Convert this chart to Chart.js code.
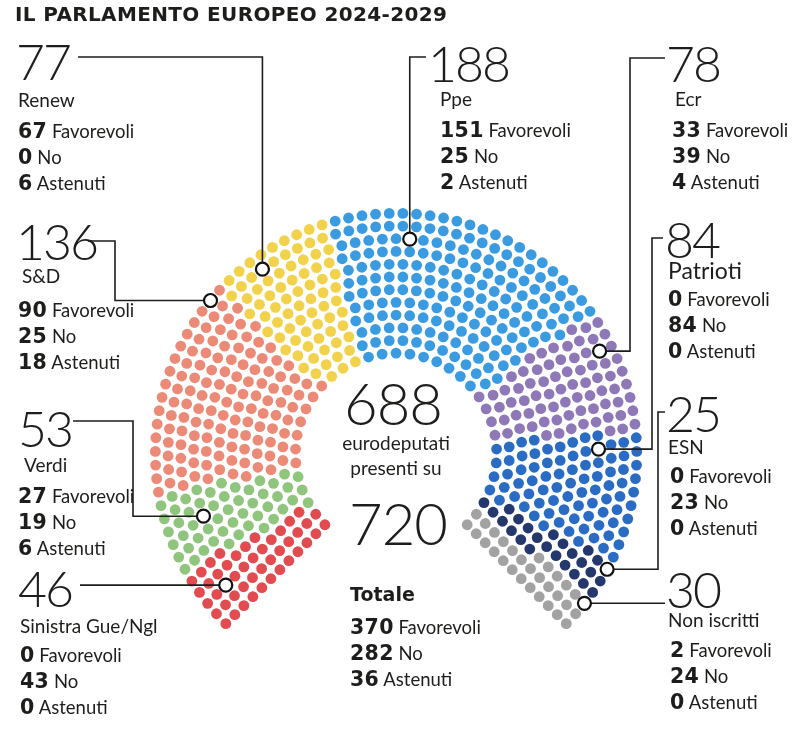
<!DOCTYPE html>
<html><head><meta charset="utf-8">
<script src="https://cdn.jsdelivr.net/npm/chart.js@4.4.1/dist/chart.umd.min.js"></script>
<style>
body{margin:0;background:#fff;}
#wrap{position:relative;width:800px;height:732px;overflow:hidden;}
#c{position:absolute;left:0;top:0;}
.t{position:absolute;font-family:Lato,'Noto Sans',sans-serif;color:#1d1d1b;white-space:nowrap;line-height:1.2;}
.t b{font-family:'DejaVu Sans',sans-serif;font-weight:700;font-size:20.5px;letter-spacing:0.3px;}
</style></head>
<body><div id="wrap"><canvas id="c" width="800" height="732"></canvas></div>
<script>
// ---- DATA ----
const parties = ['Sinistra Gue/Ngl','Verdi','S&D','Renew','Ppe','Ecr','Patrioti','ESN','Non iscritti'];
const seats = [46,53,136,77,188,78,84,25,30];
const favorevoli = [0,27,90,67,151,33,0,0,2];
const contrari = [43,19,25,0,25,39,84,23,24];
const astenuti = [0,6,18,6,2,4,0,0,0];
const voteLabels = ['Favorevoli','No','Astenuti'];
const totaleSeggi = 720;
const titleText = 'IL PARLAMENTO EUROPEO 2024-2029';
const colors = ['#e24b4f','#8fc57c','#ec8a78','#f2d24a','#3b9be0','#8e78b8','#2a6cc4','#24386e','#a2a2a2'];

// ---- GEOMETRY (layout only) ----
const CX = 396, CY = 455, RPX = 244;
const ROWS = 12, R_IN = 102/244;
const A0 = 225, A1 = -45;

function layout(seatArr){
  const total = seatArr.reduce((a,b)=>a+b,0);
  const radii = [];
  for(let i=0;i<ROWS;i++) radii.push(R_IN + (1-R_IN)*i/(ROWS-1));
  const sumR = radii.reduce((a,b)=>a+b,0);
  const counts = radii.map(r=>Math.round(total*r/sumR));
  let diff = total - counts.reduce((a,b)=>a+b,0);
  let k = ROWS-1;
  while(diff!==0){ const s=Math.sign(diff); counts[k]+=s; diff-=s; k=(k-1+ROWS)%ROWS; }
  const all=[];
  radii.forEach((r,i)=>{
    const n=counts[i];
    for(let j=0;j<n;j++){ all.push({r,row:i,a:A0+(A1-A0)*j/(n-1)}); }
  });
  all.sort((p,q)=>(Math.abs(q.a-p.a)>1e-9?q.a-p.a:p.r-q.r));
  const groups = seatArr.map(()=>[]);
  let idx=0;
  seatArr.forEach((s,g)=>{
    for(let m=0;m<s;m++){
      const p=all[idx++]; const rad=p.a*Math.PI/180;
      groups[g].push({x:p.r*Math.cos(rad), y:p.r*Math.sin(rad), row:p.row, a:p.a});
    }
  });
  return groups;
}
const groups = layout(seats);

// leader lines: start point, optional elbow, target row & fraction inside wedge
const leaders = [
  {g:0, sx:80,  sy:null, ex:null, row:9,  f:0.40},
  {g:1, sx:73,  sy:421,  ex:133,  row:8,  f:0.55},
  {g:2, sx:88,  sy:241,  ex:115,  row:11, f:0.93},
  {g:3, sx:78,  sy:57,   ex:null, row:10, f:0.43},
  {g:4, sx:426, sy:57,   ex:null, row:9,  f:0.29},
  {g:5, sx:665, sy:58,   ex:630,  row:10, f:0.24},
  {g:6, sx:663, sy:238,  ex:652,  row:8,  f:0.17},
  {g:7, sx:665, sy:412,  ex:658,  row:11, f:0},
  {g:8, sx:665, sy:null, ex:null, row:11, f:0}
];
function markerSeat(L){
  const pts = groups[L.g].filter(p=>p.row===L.row).sort((a,b)=>b.a-a.a);
  return pts[Math.round(L.f*(pts.length-1))];
}

const leaderPlugin = {
  id:'leaders',
  afterDatasetsDraw(chart){
    const ctx=chart.ctx, xs=chart.scales.x, ys=chart.scales.y;
    ctx.save();
    ctx.strokeStyle='#1d1d1b'; ctx.lineWidth=1.6; ctx.lineJoin='miter';
    const marks=[];
    leaders.forEach(L=>{
      const p=markerSeat(L);
      const mx=xs.getPixelForValue(p.x), my=ys.getPixelForValue(p.y);
      ctx.beginPath();
      if(L.sy===null){ ctx.moveTo(L.sx,my); ctx.lineTo(mx,my); }
      else if(L.ex===null){ ctx.moveTo(L.sx,L.sy); ctx.lineTo(mx,L.sy); ctx.lineTo(mx,my); }
      else { ctx.moveTo(L.sx,L.sy); ctx.lineTo(L.ex,L.sy); ctx.lineTo(L.ex,my); ctx.lineTo(mx,my); }
      ctx.stroke();
      marks.push([mx,my]);
    });
    marks.forEach(([x,y])=>{
      ctx.beginPath(); ctx.arc(x,y,6.5,0,Math.PI*2);
      ctx.fillStyle='#fff'; ctx.fill();
      ctx.lineWidth=2.2; ctx.strokeStyle='#111'; ctx.stroke();
    });
    ctx.restore();
  }
};

new Chart(document.getElementById('c'),{
  type:'scatter',
  data:{datasets: parties.map((name,g)=>({
    label:name, data:groups[g], backgroundColor:colors[g], borderWidth:0,
    pointRadius:5.4, pointHoverRadius:5.4
  }))},
  options:{
    responsive:false, animation:false,
    layout:{padding:0},
    plugins:{legend:{display:false}, tooltip:{enabled:false}},
    scales:{
      x:{type:'linear', display:false, min:-CX/RPX, max:(800-CX)/RPX},
      y:{type:'linear', display:false, min:-(732-CY)/RPX, max:CY/RPX}
    }
  },
  plugins:[leaderPlugin]
});

// ---- TEXT (HTML) ----
const wrap=document.getElementById('wrap');
function put(x, baseline, size, html, opts={}){
  const d=document.createElement('div');
  d.className='t';
  d.style.fontSize=size+'px';
  d.style.top=(baseline-(opts.asc!==undefined?opts.asc:0.987*size))+'px';
  if(opts.center){ d.style.left=(x-150)+'px'; d.style.width='300px'; d.style.textAlign='center'; }
  else d.style.left=x+'px';
  if(opts.weight) d.style.fontWeight=opts.weight;
  if(opts.family) d.style.fontFamily=opts.family;
  if(opts.ls!==undefined) d.style.letterSpacing=opts.ls+'px';
  d.innerHTML=html;
  wrap.appendChild(d);
  return d;
}
const esc=s=>s.replace(/&/g,'&amp;');
const dvAsc = s => (1.2-1.164)/2*s + 0.928*s;   // DejaVu ascent inside a 1.2 line box
const ROW_ASC = dvAsc(20.5);
function voteRows(x, b0, vals){
  vals.forEach((v,i)=>put(x, b0+i*26, 18.5, '<b>'+v+'</b> '+voteLabels[i], {asc:ROW_ASC}));
}
// title
const tt = put(15, 21, 20, titleText, {weight:700, family:"'DejaVu Sans',sans-serif", asc:dvAsc(20)});
(function fit(){
  const w = tt.getBoundingClientRect().width;
  tt.style.letterSpacing = ((432 - w)/(titleText.length-1))+'px';
})();

const blocks = [
  {g:3, bx:16, by:80,  nx:18, nb:108, ns:19, rx:18,  rb:138},
  {g:4, bx:428,by:82,  nx:440,nb:107, ns:19, rx:440, rb:137},
  {g:5, bx:666,by:82,  nx:675,nb:107, ns:19, rx:672, rb:137},
  {g:6, bx:665,by:258, nx:668,nb:280, ns:23, rx:668, rb:306},
  {g:7, bx:666,by:432, nx:668,nb:455, ns:19, rx:670, rb:483},
  {g:8, bx:666,by:608, nx:668,nb:628, ns:19, rx:670, rb:657},
  {g:2, bx:16, by:260, nx:22, nb:284, ns:19, rx:18,  rb:317},
  {g:1, bx:18, by:447, nx:24, nb:473, ns:19, rx:18,  rb:503},
  {g:0, bx:18, by:607, nx:20, nb:634, ns:19, rx:20,  rb:662}
];
blocks.forEach(B=>{
  put(B.bx, B.by, 50, String(seats[B.g]), {weight:300, ls:-2});
  put(B.nx, B.nb, B.ns, esc(parties[B.g]));
  voteRows(B.rx, B.rb, [favorevoli[B.g], contrari[B.g], astenuti[B.g]]);
});
const sum=a=>a.reduce((s,v)=>s+v,0);
const presenti = sum(favorevoli)+sum(contrari)+sum(astenuti);
put(393, 425, 58, String(presenti), {weight:300, center:true, ls:-1});
put(396, 451, 19, 'eurodeputati', {center:true});
put(396, 476, 19, 'presenti su', {center:true});
put(398, 545, 58, String(totaleSeggi), {weight:300, center:true, ls:-1});
put(350, 601, 19, '<b style="font-size:19px;letter-spacing:0">Totale</b>', {asc:dvAsc(19)});
voteRows(350, 634, [sum(favorevoli), sum(contrari), sum(astenuti)]);
</script>
</body></html>
